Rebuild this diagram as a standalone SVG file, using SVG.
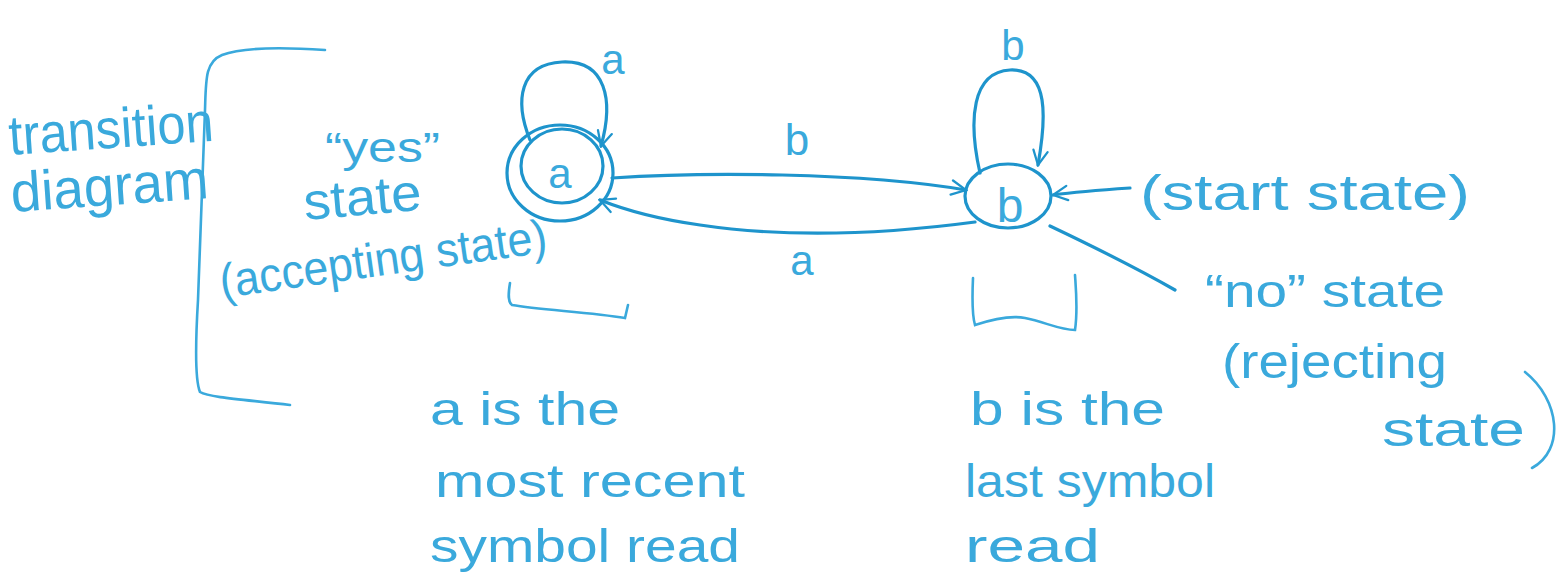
<svg xmlns="http://www.w3.org/2000/svg" width="1560" height="588" viewBox="0 0 1560 588">
<style>
.t{font-family:"Liberation Sans","DejaVu Sans",sans-serif;fill:#3aa9dc;}
.s{fill:none;stroke:#1e94cc;stroke-width:3.2;stroke-linecap:round;stroke-linejoin:round;}
.l{fill:none;stroke:#3aa9dc;stroke-width:2.6;stroke-linecap:round;}
</style>
<defs>
<marker id="ah" viewBox="0 0 20 20" refX="18" refY="10" markerWidth="18" markerHeight="18" markerUnits="userSpaceOnUse" orient="auto">
<path d="M2,2 L18,10 L2,18" fill="none" stroke="#1e94cc" stroke-width="2.5" stroke-linecap="round"/>
</marker>
</defs>
<rect width="1560" height="588" fill="#ffffff"/>

<g id="labels-left">
<path class="l" d="M325,50 C280,47 240,48 222,55 C205,62 206,80 205,110 L198,300 C195,350 195,380 200,392 C210,398 250,400 290,405"/>
<text class="t" x="10" y="155" font-size="56" textLength="205" lengthAdjust="spacingAndGlyphs" transform="rotate(-4 10 155)">transition</text>
<text class="t" x="12" y="212" font-size="56" textLength="198" lengthAdjust="spacingAndGlyphs" transform="rotate(-4 12 212)">diagram</text>
<text class="t" x="325" y="162" font-size="42" textLength="115" lengthAdjust="spacingAndGlyphs">“yes”</text>
<text class="t" x="305" y="220" font-size="52" textLength="118" lengthAdjust="spacingAndGlyphs" transform="rotate(-5 305 220)">state</text>
<text class="t" x="222" y="298" font-size="48" textLength="330" lengthAdjust="spacingAndGlyphs" transform="rotate(-8 222 298)">(accepting state)</text>
</g>

<g id="state-a">
<ellipse class="s" cx="560" cy="173" rx="53" ry="48"/>
<ellipse class="s" cx="562" cy="166" rx="41" ry="37"/>
<text class="t" x="560" y="188" font-size="42" text-anchor="middle">a</text>
</g>

<g id="state-b">
<ellipse class="s" cx="1008" cy="196" rx="43" ry="32"/>
<text class="t" x="1010" y="222" font-size="48" text-anchor="middle">b</text>
</g>

<g id="connectors">
<path class="s" d="M530,140 C514,100 520,64 562,62 C606,60 614,100 601,146" marker-end="url(#ah)"/>
<path class="s" d="M980,173 C968,120 972,72 1010,70 C1050,68 1046,120 1038,165" marker-end="url(#ah)"/>
<path class="s" d="M612,178 C700,172 860,172 966,190" marker-end="url(#ah)"/>
<path class="s" d="M975,222 C900,232 800,240 700,225 C650,218 620,208 600,200" marker-end="url(#ah)"/>
<path class="s" d="M1130,188 C1100,190 1075,192 1053,195" marker-end="url(#ah)"/>
<path class="s" d="M1050,226 C1090,245 1140,270 1175,290"/>
<path class="l" d="M510,283 C508,295 508,302 512,305 C540,310 590,312 625,318 L628,305"/>
<path class="l" d="M973,278 C972,300 972,315 975,325 C990,320 1010,315 1025,318 C1045,322 1060,330 1075,330 C1078,310 1076,290 1075,275"/>
</g>

<g id="edge-labels">
<text class="t" x="613" y="74" font-size="42" text-anchor="middle">a</text>
<text class="t" x="1013" y="60" font-size="42" text-anchor="middle">b</text>
<text class="t" x="797" y="155" font-size="44" text-anchor="middle">b</text>
<text class="t" x="802" y="275" font-size="42" text-anchor="middle">a</text>
</g>

<g id="labels-right">
<text class="t" x="1140" y="210" font-size="50" textLength="330" lengthAdjust="spacingAndGlyphs">(start state)</text>
<text class="t" x="1205" y="307" font-size="46" textLength="240" lengthAdjust="spacingAndGlyphs">“no” state</text>
<text class="t" x="1222" y="378" font-size="48" textLength="225" lengthAdjust="spacingAndGlyphs">(rejecting</text>
<text class="t" x="1382" y="446" font-size="48" textLength="143" lengthAdjust="spacingAndGlyphs">state</text>
<path class="l" d="M1525,372 C1560,400 1565,450 1532,468"/>
</g>

<g id="notes">
<text class="t" x="430" y="425" font-size="46" textLength="190" lengthAdjust="spacingAndGlyphs">a is the</text>
<text class="t" x="435" y="497" font-size="46" textLength="310" lengthAdjust="spacingAndGlyphs">most recent</text>
<text class="t" x="430" y="562" font-size="46" textLength="310" lengthAdjust="spacingAndGlyphs">symbol read</text>
<text class="t" x="970" y="425" font-size="46" textLength="195" lengthAdjust="spacingAndGlyphs">b is the</text>
<text class="t" x="965" y="497" font-size="46" textLength="250" lengthAdjust="spacingAndGlyphs">last symbol</text>
<text class="t" x="965" y="562" font-size="46" textLength="135" lengthAdjust="spacingAndGlyphs">read</text>
</g>
</svg>
